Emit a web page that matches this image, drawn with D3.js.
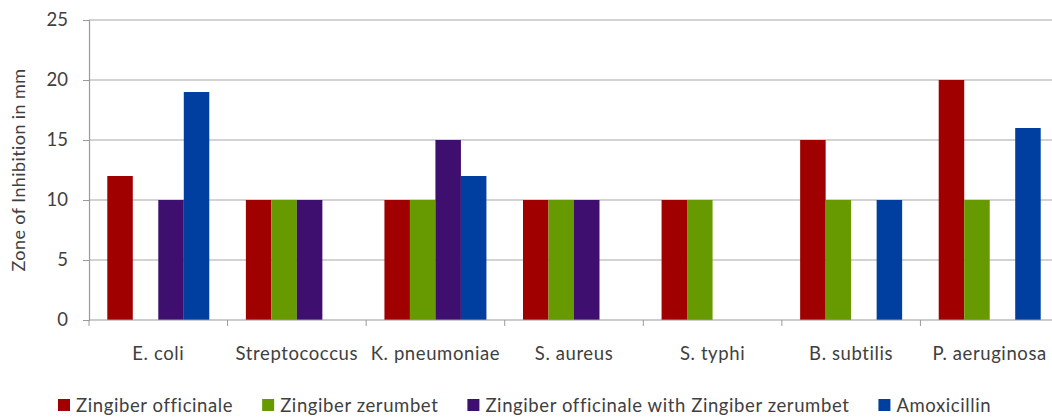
<!DOCTYPE html>
<html>
<head>
<meta charset="utf-8">
<script src="https://cdn.jsdelivr.net/npm/d3@7"></script>
<style>
  html, body { margin: 0; padding: 0; background: #fff; }
  svg { display: block; }
  text { font-family: Lato, "Open Sans", sans-serif; fill: #404040; }
</style>
</head>
<body>
<svg id="chart" width="1052" height="419"></svg>
<script>
// Bacterial strains on the x axis
const categories = ["E. coli", "Streptococcus", "K. pneumoniae", "S. aureus", "S. typhi", "B. subtilis", "P. aeruginosa"];
// Extract / drug names
const seriesNames = ["Zingiber officinale", "Zingiber zerumbet", "Zingiber officinale with Zingiber zerumbet", "Amoxicillin"];
// Zone of inhibition (mm) per series, one value per strain
const officinale  = [12, 10, 10, 10, 10, 15, 20];
const zerumbet    = [0, 10, 10, 10, 10, 10, 10];
const combination = [10, 10, 15, 10, 0, 0, 0];
const amoxicillin = [19, 0, 12, 0, 0, 10, 16];
const yTicks = [0, 5, 10, 15, 20, 25];

const colors = ["#a00000", "#669a00", "#3e0f6f", "#003f9f"];
const seriesValues = [officinale, zerumbet, combination, amoxicillin];

const svg = d3.select("#chart");
const plot = { left: 89, right: 1059, top: 20, bottom: 320 };
const fontSize = 18.5;
const spacing = "0.6px";

const x0 = d3.scaleBand().domain(categories).range([plot.left, plot.right])
  .paddingInner(0.264).paddingOuter(0.132);
const x1 = d3.scaleBand().domain(d3.range(seriesNames.length)).range([0, x0.bandwidth()]);
const y = d3.scaleLinear().domain([0, 25]).range([plot.bottom, plot.top]);

// horizontal gridlines
svg.append("g").selectAll("line").data(yTicks.filter(d => d > 0)).join("line")
  .attr("x1", plot.left).attr("x2", plot.right)
  .attr("y1", d => y(d)).attr("y2", d => y(d))
  .attr("stroke", "#c4c4c4").attr("stroke-width", 1.6);

// bars
const rows = categories.map((c, i) => ({ cat: c, vals: seriesValues.map(s => s[i]) }));
svg.append("g").selectAll("g").data(rows).join("g")
  .attr("transform", d => `translate(${x0(d.cat)},0)`)
  .selectAll("rect").data(d => d.vals.map((v, k) => ({ v, k })).filter(e => e.v > 0)).join("rect")
  .attr("x", d => x1(d.k)).attr("width", x1.bandwidth())
  .attr("y", d => y(d.v)).attr("height", d => y(0) - y(d.v))
  .attr("fill", d => colors[d.k]);

// y axis
const yAxis = svg.append("g").attr("transform", `translate(${plot.left},0)`)
  .call(d3.axisLeft(y).tickValues(yTicks).tickSize(6).tickPadding(15));
yAxis.select(".domain").attr("stroke", "#9a9a9a").attr("stroke-width", 1.2);
yAxis.selectAll(".tick line").attr("stroke", "#9a9a9a");
yAxis.selectAll(".tick text").attr("font-size", fontSize).attr("fill", "#404040")
  .style("font-family", "Lato, sans-serif");

// x axis with tick marks between categories
const xAxisG = svg.append("g");
xAxisG.append("line").attr("x1", plot.left).attr("x2", plot.right)
  .attr("y1", y(0)).attr("y2", y(0)).attr("stroke", "#9a9a9a").attr("stroke-width", 1.2);
const boundaries = d3.range(categories.length + 1).map(i => plot.left + i * x0.step());
xAxisG.selectAll("line.tk").data(boundaries).join("line").attr("class", "tk")
  .attr("x1", d => d).attr("x2", d => d).attr("y1", y(0)).attr("y2", y(0) + 6)
  .attr("stroke", "#9a9a9a");
xAxisG.selectAll("text").data(categories).join("text")
  .attr("x", d => x0(d) + x0.bandwidth() / 2).attr("y", 360)
  .attr("text-anchor", "middle").attr("font-size", fontSize)
  .style("letter-spacing", spacing).text(d => d);

// y axis title
svg.append("text").attr("transform", "translate(25,170) rotate(-90)")
  .attr("text-anchor", "middle").attr("font-size", 18)
  .style("letter-spacing", "0.4px").text("Zone of Inhibition in mm");

// legend
const legend = svg.append("g");
let lx = 58;
seriesNames.forEach((name, k) => {
  const g = legend.append("g").attr("transform", `translate(${lx},0)`);
  g.append("rect").attr("x", 0).attr("y", 399).attr("width", 12).attr("height", 12).attr("fill", colors[k]);
  const t = g.append("text").attr("x", 18).attr("y", 411.5).attr("font-size", fontSize)
    .style("letter-spacing", spacing).text(name);
  lx += 18 + t.node().getComputedTextLength() + 29;
});
</script>
</body>
</html>
